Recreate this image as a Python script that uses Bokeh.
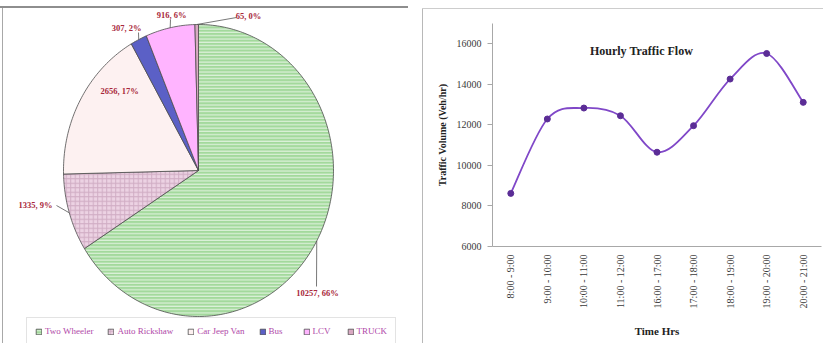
import math

from bokeh.plotting import figure
from bokeh.models import (Range1d, FixedTicker, Legend, LegendItem, Label,
                          ColumnDataSource)
from bokeh.embed import file_html
from bokeh.resources import INLINE

# ---- vehicle composition (pie) ----
vehicle_types = ["Two Wheeler", "Auto Rickshaw", "Car Jeep Van", "Bus", "LCV", "TRUCK"]
vehicle_counts = [10257, 1335, 2656, 307, 916, 65]

# ---- hourly flow (line) ----
time_slots = ["8:00 - 9:00", "9:00 - 10:00", "10:00 - 11:00", "11:00 - 12:00",
              "16:00 - 17:00", "17:00 - 18:00", "18:00 - 19:00", "19:00 - 20:00",
              "20:00 - 21:00"]
hourly_volume = [8620, 12290, 12830, 12450, 10650, 11960, 14260, 15520, 13110]
volume_ticks = [6000, 8000, 10000, 12000, 14000, 16000]

SERIF = "Liberation Serif"
LEFT_W = 422

# ---------------------------------------------------------------- pie panel
slice_fill = ["#a3d99c", "#ecd2e3", "#fdf1f1", "#5b60c6", "#ffb4ff", "#d9a9c2"]
slice_hatch = ["horizontal_line", "cross", " ", " ", " ", " "]
slice_hatch_color = ["#ffffff", "#c7a0ba", "#ffffff", "#ffffff", "#ffffff", "#ffffff"]
slice_hatch_scale = [3.3, 4.5, 4, 4, 4, 4]

# pixel layout of the pie (canvas coordinates, y downwards)
CX, CY, RX, RY = 198, 170, 135, 146
# label anchor and leader-line end for each slice (None = label inside slice)
label_pos = [(317, 292), (35, 204), (119, 90), (126, 27), (171, 14), (248, 15)]
leader_end = [(316, 286), (56, 205), None, (138, 32), (170, 19), (236, 17)]

p1 = figure(width=LEFT_W, height=343, x_range=Range1d(0, LEFT_W), y_range=Range1d(343, 0),
            x_axis_type=None, y_axis_type=None, output_backend="svg",
            toolbar_location=None, min_border=0, outline_line_color=None,
            border_fill_color=None, background_fill_color=None,
            styles={"position": "absolute", "left": "0px", "top": "0px",
                    "background":
                    "linear-gradient(#8e8e8e,#8e8e8e) left 0px top 6px / 408px 2px no-repeat, "
                    "linear-gradient(#a8a8a8,#a8a8a8) left 2px top 6px / 1px 100% no-repeat"})
p1.xgrid.grid_line_color = None
p1.ygrid.grid_line_color = None

total = sum(vehicle_counts)


def edge(theta):
    return CX + RX * math.sin(theta), CY - RY * math.cos(theta)


xs, ys, mids = [], [], []
start = 0.0
for c in vehicle_counts:
    a0 = start / total * 2 * math.pi
    a1 = (start + c) / total * 2 * math.pi
    n = max(2, int((a1 - a0) / (2 * math.pi) * 360))
    px, py = [CX], [CY]
    for k in range(n + 1):
        ex, ey = edge(a0 + (a1 - a0) * k / n)
        px.append(ex)
        py.append(ey)
    xs.append(px)
    ys.append(py)
    mids.append((a0 + a1) / 2)
    start += c

pie_src = ColumnDataSource(dict(xs=xs, ys=ys, fill=slice_fill, hatch=slice_hatch,
                                hcolor=slice_hatch_color, hscale=slice_hatch_scale,
                                name=vehicle_types))
pie = p1.patches("xs", "ys", source=pie_src, fill_color="fill", hatch_pattern="hatch",
                 hatch_color="hcolor", hatch_scale="hscale", hatch_weight=1,
                 hatch_alpha=0.75, line_color="#4d4d4d", line_width=0.8)

# leader lines from the slice edge to the label
lx0, ly0, lx1, ly1 = [], [], [], []
for m, end in zip(mids, leader_end):
    if end is None:
        continue
    ex, ey = edge(m)
    lx0.append(ex)
    ly0.append(ey)
    lx1.append(end[0])
    ly1.append(end[1])
p1.segment(lx0, ly0, lx1, ly1, line_color="#555555", line_width=0.8)

labels = [f"{c}, {round(100 * c / total)}%" for c in vehicle_counts]
p1.text([q[0] for q in label_pos], [q[1] for q in label_pos], text=labels,
        text_align="center", text_baseline="middle", text_font=SERIF,
        text_font_size="8.5px", text_font_style="bold", text_color="#a8283a")

legend = Legend(items=[LegendItem(label=vehicle_types[i], renderers=[pie], index=i)
                       for i in range(len(vehicle_types))],
                orientation="horizontal", location=(26, -2), padding=8, margin=0,
                spacing=14, label_standoff=3, glyph_width=7, glyph_height=7,
                label_height=9, label_text_font=SERIF, label_text_font_size="9px",
                label_text_color="#b048a8", border_line_color="#c8c8c8",
                background_fill_color="white", background_fill_alpha=1)
p1.add_layout(legend)

# ---------------------------------------------------------------- line panel
n_slots = len(time_slots)
p2 = figure(width=823 - LEFT_W, height=343, x_range=Range1d(0.5, n_slots + 0.5),
            y_range=Range1d(6000, 17000), output_backend="svg", toolbar_location=None,
            min_border_left=70, min_border_right=2, min_border_top=23,
            min_border_bottom=97, outline_line_color=None,
            border_fill_color=None, background_fill_color=None,
            styles={"position": "absolute", "left": f"{LEFT_W}px", "top": "0px",
                    "background":
                    "linear-gradient(#cdcdcd,#cdcdcd) left 0px top 8px / 100% 1px no-repeat, "
                    "linear-gradient(#b8b8b8,#b8b8b8) left 0px top 8px / 1px 100% no-repeat"})
p2.xgrid.grid_line_color = None
p2.ygrid.grid_line_color = None

slot_x = list(range(1, n_slots + 1))
p2.xaxis.ticker = FixedTicker(ticks=slot_x)
p2.xaxis.major_label_overrides = {i: s for i, s in zip(slot_x, time_slots)}
p2.xaxis.major_label_orientation = math.pi / 2
p2.xaxis.major_tick_out = 0
p2.xaxis.major_tick_in = 0
p2.xaxis.minor_tick_line_color = None
p2.xaxis.major_label_standoff = 8
p2.xaxis.axis_label = "Time Hrs"
p2.xaxis.axis_label_standoff = 14
p2.xaxis.axis_label_text_align = "right"

p2.yaxis.ticker = FixedTicker(ticks=volume_ticks)
p2.yaxis.minor_tick_line_color = None
p2.yaxis.major_tick_in = 0
p2.yaxis.major_tick_out = 5
p2.yaxis.major_label_standoff = 6
p2.yaxis.axis_label = "Traffic Volume (Veh/hr)"
p2.yaxis.axis_label_standoff = 6

for ax in (p2.xaxis, p2.yaxis):
    ax.axis_line_color = "#a8a8a8"
    ax.major_tick_line_color = "#a8a8a8"
    ax.major_label_text_font = SERIF
    ax.major_label_text_font_size = "10px"
    ax.major_label_text_color = "#3a3a3a"
    ax.axis_label_text_font = SERIF
    ax.axis_label_text_font_style = "bold"
    ax.axis_label_text_color = "#222222"
p2.xaxis.axis_label_text_font_size = "11px"
p2.yaxis.axis_label_text_font_size = "10px"

# smoothed line: Catmull-Rom segments as cubic Bezier curves
pts = list(zip(slot_x, hourly_volume))
seg = dict(x0=[], y0=[], x1=[], y1=[], cx0=[], cy0=[], cx1=[], cy1=[])
for i in range(len(pts) - 1):
    a = pts[i - 1] if i > 0 else pts[i]
    b = pts[i]
    c = pts[i + 1]
    d = pts[i + 2] if i + 2 < len(pts) else pts[i + 1]
    seg["x0"].append(b[0]); seg["y0"].append(b[1])
    seg["x1"].append(c[0]); seg["y1"].append(c[1])
    seg["cx0"].append(b[0] + (c[0] - a[0]) / 6); seg["cy0"].append(b[1] + (c[1] - a[1]) / 6)
    seg["cx1"].append(c[0] - (d[0] - b[0]) / 6); seg["cy1"].append(c[1] - (d[1] - b[1]) / 6)
p2.bezier("x0", "y0", "x1", "y1", "cx0", "cy0", "cx1", "cy1",
          source=ColumnDataSource(seg), line_color="#8048c8", line_width=1.8)
p2.scatter(slot_x, hourly_volume, size=6, marker="circle",
           fill_color="#5b2d96", line_color="#5b2d96")

p2.add_layout(Label(x=149, y=196, x_units="screen", y_units="screen",
                    text="Hourly Traffic Flow", text_align="center",
                    text_baseline="middle", text_font=SERIF, text_font_style="bold",
                    text_font_size="12px", text_color="#222222"))

# two independent roots side by side, so each keeps its own frame
open("out.html", "w").write(file_html([p1, p2], INLINE))
